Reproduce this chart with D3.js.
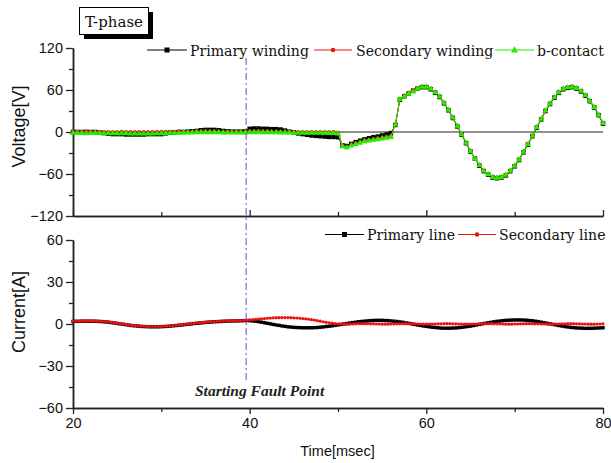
<!DOCTYPE html>
<html><head><meta charset="utf-8">
<script src="https://cdn.jsdelivr.net/npm/d3@7"></script>
<style>html,body{margin:0;padding:0;background:#fff;}svg{display:block;}</style>
</head><body>
<svg id="c" width="611" height="463"></svg>
<script>
// ---------- data ----------
const timeStart = 20;
const voltStep = 0.5;      // msec between voltage samples
const currStep = 1/3;      // msec between current samples
const xTicksMajor = [20, 40, 60, 80];
const xTicksMinor = [30, 50, 70];
const vTicksMajor = [120, 60, 0, -60, -120];
const vTicksMinor = [90, 30, -30, -90];
const cTicksMajor = [60, 30, 0, -30, -60];
const cTicksMinor = [45, 15, -15, -45];
const faultTime = 39.6;

const primaryWinding = [
 0,0, 0,0, 0,0, -0.5,-1.5, -2.5,-3, -3,-3, -3.5,-3.5, -3.5,-3.5, -3.5,-3, -3,-3,
 -3,-2, -1,-0.5, 0,0, 0.5,1, 1.5,2.5, 3,3, 3,2.5, 1.5,1, 0.5,0.5, 0.5,1,
 4.5,5, 5,4.5, 4.5,4, 4,3.5, 2,0.5, -0.5,-2, -3,-4, -5,-5.5, -6,-6.5, -7,-7,
 -7.5,-19, -20,-17, -14.5,-12.5, -10.5,-9, -7.5,-6.5, -5,-3.5, -1.5,10, 46,51, 55,59, 62,64,
 64,61, 56,50, 41,31, 20,8, -4,-16, -28,-38, -48,-56, -61,-65, -66,-65, -62,-56,
 -49,-40, -29,-18, -6,6, 18,30, 40,49, 56,61, 63,64, 62,58, 52,44, 35,24, 12
];
const secondaryWinding = [
 0.5,0.5, 0.5,1, 0.5,0.5, 0.5,0, 0,0, 0,0.5, 0,0, 0,0, 0,0, 0,0.5,
 0.5,0.5, 0.5,0.5, 1,0.5, 0.5,0.5, 1,1, 1,1, 1,0.5, 0.5,0.5, 0.5,0.5, 0.5,1,
 1,1, 1,1, 1,0.5, 0.5,0.5, 0.5,0.5, 0,0, 0,0, 0,0, 0,0, 0,0,
 -1,-19, -21,-18, -16,-14, -12,-11, -10,-9, -8,-7, -5,11, 47,52, 56,59, 63,65,
 65,62, 57,51, 42,32, 21,9, -3,-15, -27,-37, -47,-55, -60,-64, -65,-64, -61,-55,
 -48,-39, -28,-17, -5,7, 19,31, 41,50, 57,62, 64,65, 63,59, 53,45, 36,25, 13
];
const bContact = [
 -1,-1, -1,-1.5, -1,-1, -1,-1.5, -1.5,-1.5, -1.5,-1.5, -1.5,-2, -2,-2, -2,-2, -2,-1.5,
 -1.5,-1.5, -1,-1, -1,-0.5, -0.5,-0.5, 0,0, 0,0, 0,0, -0.5,-0.5, -0.5,-0.5, -0.5,-0.5,
 0,0, 0,0, 0,0, 0,-0.5, -0.5,-0.5, -1,-1, -1,-1, -1,-1, -1,-1, -1,-1,
 -2,-20, -22,-19, -17,-15, -13,-12, -11,-10, -9,-8, -7,11, 47,51, 55,58, 62,65,
 65,62, 57,51, 42,32, 21,9, -3,-15, -27,-38, -47,-55, -60,-64, -65,-64, -61,-55,
 -48,-39, -28,-17, -5,7, 19,31, 41,50, 57,62, 64,65, 63,59, 53,45, 36,25, 13
];
const primaryLine = [
 1.8,1.9,1.9, 2.0,2.0,2.0, 2.0,2.0,1.9, 1.8,1.7,1.5, 1.3,1.0,0.7, 0.4,0.1,-0.2,
 -0.5,-0.8,-1.1, -1.3,-1.5,-1.7, -1.8,-1.9,-2.0, -2.0,-2.0,-2.0, -1.9,-1.8,-1.7, -1.5,-1.3,-1.1,
 -0.9,-0.7,-0.4, -0.2,0.0,0.3, 0.5,0.7,0.9, 1.1,1.3,1.4, 1.6,1.7,1.8, 1.9,2.0,2.1,
 2.1,2.2,2.2, 2.3,2.4,2.4, 2.4,2.2,2.0, 1.7,1.3,0.9, 0.5,0.1,-0.3, -0.7,-1.0,-1.4,
 -1.7,-2.0,-2.2, -2.4,-2.5,-2.6, -2.7,-2.7,-2.7, -2.7,-2.6,-2.5, -2.3,-2.1,-1.8, -1.6,-1.3,-1.0,
 -0.7,-0.3,0.0, 0.3,0.7,1.0, 1.3,1.6,1.8, 2.0,2.2,2.4, 2.5,2.6,2.6, 2.6,2.5,2.4,
 2.2,2.0,1.8, 1.5,1.2,0.8, 0.5,0.1,-0.3, -0.7,-1.0,-1.4, -1.7,-2.0,-2.3, -2.5,-2.7,-2.9,
 -3.0,-3.0,-3.0, -2.9,-2.8,-2.6, -2.4,-2.1,-1.8, -1.5,-1.1,-0.7, -0.3,0.1,0.5, 0.9,1.2,1.6,
 1.9,2.1,2.4, 2.6,2.7,2.8, 2.9,2.9,2.9, 2.8,2.7,2.5, 2.3,2.0,1.7, 1.3,0.9,0.5,
 0.1,-0.3,-0.7, -1.1,-1.4,-1.8, -2.1,-2.4,-2.6, -2.8,-2.9,-3.0, -3.1,-3.1,-3.1, -3.0,-2.9,-2.8,
 -2.7
];
const secondaryLine = [
 2.0,2.1,2.1, 2.2,2.2,2.2, 2.2,2.2,2.1, 2.0,1.9,1.7, 1.5,1.2,0.9, 0.6,0.3,0.0,
 -0.3,-0.6,-0.9, -1.1,-1.3,-1.5, -1.6,-1.7,-1.8, -1.8,-1.8,-1.8, -1.7,-1.6,-1.5, -1.3,-1.1,-0.9,
 -0.7,-0.5,-0.2, 0.0,0.2,0.5, 0.7,0.9,1.1, 1.3,1.5,1.6, 1.8,1.9,2.0, 2.1,2.2,2.3,
 2.3,2.4,2.4, 2.5,2.6,2.7, 2.9,3.1,3.3, 3.5,3.7,3.9, 4.1,4.2,4.4, 4.5,4.5,4.6,
 4.6,4.6,4.5, 4.4,4.3,4.1, 3.9,3.7,3.4, 3.1,2.8,2.4, 2.0,1.6,1.2, 0.9,0.6,0.3,
 0.1,0.0,-0.1, -0.1,-0.1,0.0, 0.1,0.2,0.2, 0.2,0.2,0.1, 0.1,0.0,0.0, -0.1,-0.1,-0.1,
 0.0,0.0,0.1, 0.1,0.2,0.2, 0.2,0.1,0.1, 0.0,0.0,-0.1, -0.1,-0.1,0.0, 0.0,0.1,0.1,
 0.2,0.2,0.2, 0.1,0.1,0.0, 0.0,-0.1,-0.1, -0.1,0.0,0.0, 0.1,0.1,0.2, 0.2,0.2,0.1,
 0.1,0.0,0.0, -0.1,-0.1,-0.1, 0.0,0.0,0.1, 0.1,0.2,0.2, 0.2,0.1,0.1, 0.0,0.0,-0.1,
 -0.1,-0.1,0.0, 0.0,0.1,0.1, 0.2,0.2,0.2, 0.1,0.1,0.0, 0.0,-0.1,-0.1, -0.1,0.0,0.0,
 0.1
];

// ---------- chart ----------
const svg = d3.select("#c");
const x = d3.scaleLinear().domain([20, 80]).range([73, 603]);
const yV = d3.scaleLinear().domain([-120, 120]).range([216, 48]);
const yC = d3.scaleLinear().domain([-60, 60]).range([408, 240]);
const axisColor = "#222";

function toPts(arr, step) { return arr.map((v, i) => [timeStart + i * step, v]); }

function drawAxisY(scale, major, minor) {
  const g1 = svg.append("g").attr("transform", "translate(73,0)")
    .call(d3.axisLeft(scale).tickValues(major).tickSize(7).tickSizeOuter(0).tickPadding(3));
  const g2 = svg.append("g").attr("transform", "translate(73,0)")
    .call(d3.axisLeft(scale).tickValues(minor).tickSize(4).tickSizeOuter(0).tickFormat(""));
  [g1, g2].forEach(g => {
    g.select(".domain").attr("stroke", axisColor).attr("stroke-width", 1.5);
    g.selectAll(".tick line").attr("stroke", axisColor).attr("stroke-width", 1.3);
    g.selectAll("text").attr("font-family", "Liberation Sans, Arial, sans-serif")
      .attr("font-size", 14.5).attr("fill", "#111");
  });
}
drawAxisY(yV, vTicksMajor, vTicksMinor);
drawAxisY(yC, cTicksMajor, cTicksMinor);

// top panel x axis: inward ticks, no labels
[[xTicksMajor, 6], [xTicksMinor, 4]].forEach(([tv, sz]) => {
  const g = svg.append("g").attr("transform", "translate(0,216)")
    .call(d3.axisTop(x).tickValues(tv).tickSize(sz).tickSizeOuter(0).tickFormat(""));
  g.select(".domain").attr("stroke", axisColor).attr("stroke-width", 1.5);
  g.selectAll(".tick line").attr("stroke", axisColor).attr("stroke-width", 1.3);
});
// bottom panel x axis
[[xTicksMajor, 6, true], [xTicksMinor, 4, false]].forEach(([tv, sz, lab]) => {
  const ax = d3.axisBottom(x).tickValues(tv).tickSize(sz).tickSizeOuter(0).tickPadding(4);
  if (!lab) ax.tickFormat("");
  const g = svg.append("g").attr("transform", "translate(0,408)").call(ax);
  g.select(".domain").attr("stroke", axisColor).attr("stroke-width", 1.5);
  g.selectAll(".tick line").attr("stroke", axisColor).attr("stroke-width", 1.3);
  g.selectAll("text").attr("font-family", "Liberation Sans, Arial, sans-serif")
    .attr("font-size", 14.5).attr("fill", "#111");
});

// zero line in voltage panel
svg.append("line").attr("x1", x(20)).attr("x2", x(80)).attr("y1", yV(0)).attr("y2", yV(0))
  .attr("stroke", "#222").attr("stroke-width", 1.2);

// markers
function marker(g, type, color, px, py, s) {
  if (type === "square") {
    g.append("rect").attr("x", px - s / 2).attr("y", py - s / 2).attr("width", s).attr("height", s).attr("fill", color);
  } else if (type === "circle") {
    g.append("circle").attr("cx", px).attr("cy", py).attr("r", s / 2).attr("fill", color);
  } else {
    const h = s * 0.9;
    g.append("path").attr("d", `M${px},${py - h * 0.6}L${px + s / 2},${py + h * 0.4}L${px - s / 2},${py + h * 0.4}Z`).attr("fill", color);
  }
}
function drawSeries(arr, step, yS, color, type, size, lw) {
  const pts = toPts(arr, step);
  const g = svg.append("g");
  g.append("path").datum(pts)
    .attr("d", d3.line().x(d => x(d[0])).y(d => yS(d[1])))
    .attr("fill", "none").attr("stroke", color).attr("stroke-width", lw);
  pts.forEach(d => marker(g, type, color, x(d[0]), yS(d[1]), size));
}
drawSeries(primaryWinding, voltStep, yV, "#000", "square", 4.5, 1);
drawSeries(secondaryWinding, voltStep, yV, "#ee1111", "circle", 4, 1);
drawSeries(bContact, voltStep, yV, "#22ee00", "triangle", 6, 1);
drawSeries(primaryLine, currStep, yC, "#000", "square", 3.4, 0.8);
drawSeries(secondaryLine, currStep, yC, "#ee1111", "circle", 3.2, 0.8);

// fault line
svg.append("line").attr("x1", x(faultTime)).attr("x2", x(faultTime)).attr("y1", 58).attr("y2", 380)
  .attr("stroke", "#6a4fc0").attr("stroke-width", 1).attr("stroke-dasharray", "7,3,2,3");
svg.append("text").attr("x", 195).attr("y", 396)
  .attr("font-family", "Liberation Serif, serif").attr("font-style", "italic").attr("font-weight", "bold")
  .attr("font-size", 15.5).attr("fill", "#222").text("Starting Fault Point");

// axis titles
svg.append("text").attr("transform", "translate(25,126.5) rotate(-90)").attr("text-anchor", "middle")
  .attr("font-family", "Liberation Sans, Arial, sans-serif").attr("font-size", 18).attr("fill", "#111").text("Voltage[V]");
svg.append("text").attr("transform", "translate(25,312) rotate(-90)").attr("text-anchor", "middle")
  .attr("font-family", "Liberation Sans, Arial, sans-serif").attr("font-size", 18).attr("fill", "#111").text("Current[A]");
svg.append("text").attr("x", 337.5).attr("y", 456).attr("text-anchor", "middle")
  .attr("font-family", "Liberation Sans, Arial, sans-serif").attr("font-size", 14.5).attr("fill", "#111").text("Time[msec]");

// title box
svg.append("rect").attr("x", 84).attr("y", 12).attr("width", 69).attr("height", 27).attr("fill", "#000");
svg.append("rect").attr("x", 79.5).attr("y", 7.5).attr("width", 69).attr("height", 27).attr("fill", "#fff").attr("stroke", "#000").attr("stroke-width", 1);
svg.append("text").attr("x", 114).attr("y", 26.5).attr("text-anchor", "middle")
  .attr("font-family", "DejaVu Serif, serif").attr("font-size", 15).attr("fill", "#111").text("T-phase");

// legends
const legFont = "DejaVu Serif, serif";
function legendItem(x1, x2, ly, color, type, size, label, tx) {
  svg.append("line").attr("x1", x1).attr("x2", x2).attr("y1", ly).attr("y2", ly).attr("stroke", color).attr("stroke-width", 1);
  marker(svg, type, color, (x1 + x2) / 2, ly, size);
  svg.append("text").attr("x", tx).attr("y", ly + 5.5).attr("font-family", legFont).attr("font-size", 14.1)
    .attr("fill", "#111").text(label);
}
legendItem(147, 187, 50, "#000", "square", 5, "Primary winding", 190);
legendItem(314, 352, 50, "#ee1111", "circle", 4.5, "Secondary winding", 356);
legendItem(495, 534, 50, "#22ee00", "triangle", 7, "b-contact", 537);
legendItem(325, 364, 234.5, "#000", "square", 5, "Primary line", 367);
legendItem(458, 496, 234.5, "#ee1111", "circle", 4.5, "Secondary line", 499);
</script>
</body></html>
